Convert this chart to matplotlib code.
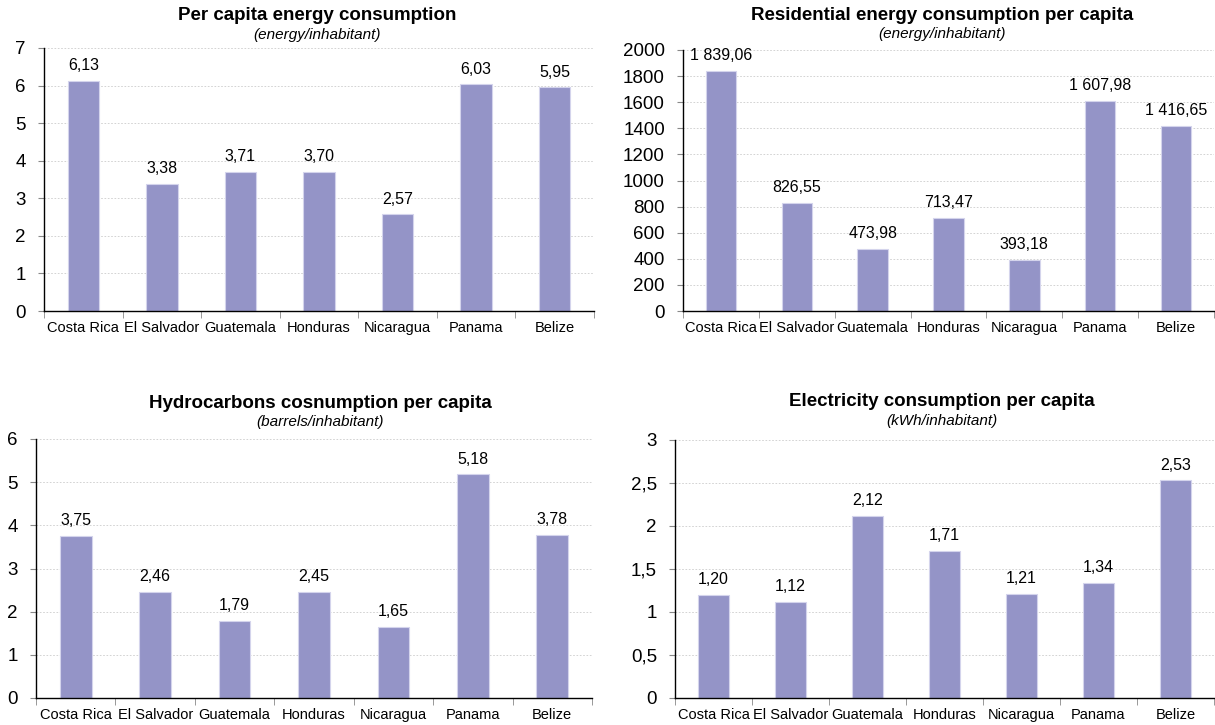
import matplotlib
matplotlib.use("Agg")
import matplotlib.pyplot as plt
import numpy as np

plt.rcParams['font.family'] = ['Liberation Sans', 'DejaVu Sans']

countries = ["Costa Rica", "El Salvador", "Guatemala", "Honduras", "Nicaragua", "Panama", "Belize"]

energy = [6.13, 3.38, 3.71, 3.70, 2.57, 6.03, 5.95]
residential = [1839.06, 826.55, 473.98, 713.47, 393.18, 1607.98, 1416.65]
hydrocarbons = [3.75, 2.46, 1.79, 2.45, 1.65, 5.18, 3.78]
electricity = [1.20, 1.12, 2.12, 1.71, 1.21, 1.34, 2.53]

W, H = 1215, 725
bar_color = "#9494c7"


def fmt(v):
    s = "{:,.2f}".format(v)
    return s.replace(",", " ").replace(".", ",")


def tick_fmt(v):
    if v == int(v):
        return str(int(v))
    return ("%g" % v).replace(".", ",")


def panel(box, values, title, subtitle, ymax, ystep, title_y, title_x=None):
    x0, y0, x1, y1 = box
    ax = fig.add_axes([x0 / W, 1 - y1 / H, (x1 - x0) / W, (y1 - y0) / H])
    x = np.arange(len(countries))
    ax.bar(x, values, width=0.4, color=bar_color, edgecolor="#d4d4ec", linewidth=0.8, zorder=2)
    for xi, v in zip(x, values):
        ax.text(xi, v + ymax * 0.03, fmt(v), ha="center", va="bottom", fontsize=11.5)
    ax.set_xlim(-0.5, len(countries) - 0.5)
    ax.set_ylim(0, ymax)
    yt = np.arange(0, ymax + ystep / 2, ystep)
    ax.set_yticks(yt)
    ax.set_yticklabels([tick_fmt(round(v, 2)) for v in yt], fontsize=13.5)
    ax.set_xticks(x)
    ax.set_xticklabels(countries, fontsize=10.5)
    ax.tick_params(axis="x", length=0, pad=7)
    ax.set_xticks(np.arange(-0.5, len(countries)), minor=True)
    ax.tick_params(axis="x", which="minor", length=5, color="#888888")
    ax.tick_params(axis="y", length=4, color="#888888", pad=9)
    ax.grid(axis="y", color="#cccccc", linestyle=(0, (2, 2)), linewidth=0.6, zorder=0)
    for s in ["top", "right"]:
        ax.spines[s].set_visible(False)
    ax.spines["left"].set_linewidth(1.0)
    ax.spines["bottom"].set_linewidth(1.0)
    if title_x is None:
        title_x = (x0 + x1) / 2
    fig.text(title_x / W, 1 - title_y / H, title, ha="center", va="center", fontsize=13.5, fontweight="bold")
    fig.text(title_x / W, 1 - (title_y + 19) / H, subtitle, ha="center", va="center", fontsize=11, style="italic")
    return ax


fig = plt.figure(figsize=(W / 100, H / 100), dpi=100)

panel((44, 48, 594, 311), energy, "Per capita energy consumption", "(energy/inhabitant)", 7, 1, 16, 317)
panel((683, 50, 1214, 311), residential, "Residential energy consumption per capita", "(energy/inhabitant)", 2000, 200, 15, 942)
panel((36, 439, 592, 698), hydrocarbons, "Hydrocarbons cosnumption per capita", "(barrels/inhabitant)", 6, 1, 403, 320)
panel((675, 440, 1214, 698), electricity, "Electricity consumption per capita", "(kWh/inhabitant)", 3, 0.5, 402, 942)

fig.savefig("out.png", dpi=100)
